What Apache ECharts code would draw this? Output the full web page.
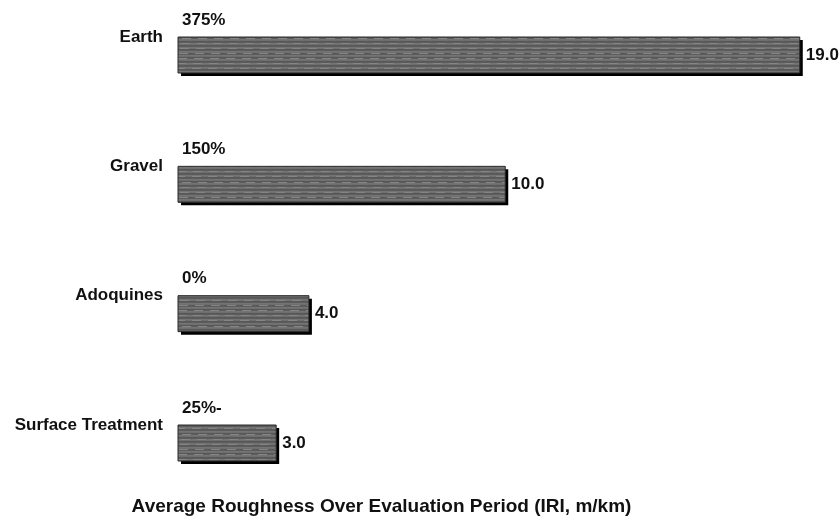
<!DOCTYPE html>
<html>
<head>
<meta charset="utf-8">
<script src="https://cdn.jsdelivr.net/npm/echarts@6/dist/echarts.min.js"></script>
<style>
  html, body { margin: 0; padding: 0; background: #fff; }
  #chart { width: 840px; height: 524px; }
</style>
</head>
<body>
<div id="chart"></div>
<script>
// Surface types, top to bottom
const categories = ['Earth', 'Gravel', 'Adoquines', 'Surface Treatment'];
// Average roughness over the evaluation period (IRI, m/km)
const roughness = [19.0, 10.0, 4.0, 3.0];
// Change relative to the paved reference, shown above each bar
const changeLabels = ['375%', '150%', '0%', '25%-'];
const axisTitle = 'Average Roughness Over Evaluation Period (IRI, m/km)';

const FONT = '"Liberation Sans", Arial, sans-serif';
const BAR_H = 36;

// Grey streaked fill for the bars
function makeStreakPattern() {
  const c = document.createElement('canvas');
  c.width = 64; c.height = 36;
  const ctx = c.getContext('2d');
  ctx.fillStyle = '#636363';
  ctx.fillRect(0, 0, c.width, c.height);
  const shades = ['#6e6e6e', '#585858', '#6a6a6a', '#5c5c5c', '#747474', '#616161'];
  for (let y = 0; y < c.height; y++) {
    ctx.fillStyle = shades[(y * 7 + (y >> 1)) % shades.length];
    ctx.fillRect(0, y, c.width, 1);
    if (y % 5 === 2) {
      ctx.fillStyle = '#858585';
      for (let x = (y * 3) % 16; x < c.width; x += 16) ctx.fillRect(x, y, 9, 1);
    }
  }
  return c;
}
const pattern = { image: makeStreakPattern(), repeat: 'repeat' };

const labelFont = 'bold 17px ' + FONT;

function renderBar(params, api) {
  const value = api.value(0);
  const idx = api.value(1);
  const start = api.coord([0, idx]);
  const end = api.coord([value, idx]);
  const x = start[0];
  const y = start[1] - BAR_H / 2;
  const w = end[0] - start[0];
  return {
    type: 'group',
    children: [
      { type: 'rect', shape: { x: x + 3, y: y + 3, width: w, height: BAR_H },
        style: { fill: '#000' } },
      { type: 'rect', shape: { x: x, y: y, width: w, height: BAR_H },
        style: { fill: pattern, stroke: '#2a2a2a', lineWidth: 1 } },
      { type: 'text', x: end[0] + 6, y: start[1],
        style: { text: value.toFixed(1), font: labelFont, fill: '#111',
                 align: 'left', verticalAlign: 'middle' } },
      { type: 'text', x: x + 4, y: y - 17,
        style: { text: changeLabels[params.dataIndex], font: labelFont, fill: '#111',
                 align: 'left', verticalAlign: 'middle' } }
    ]
  };
}

const chart = echarts.init(document.getElementById('chart'), null, { renderer: 'canvas' });

chart.setOption({
  animation: false,
  backgroundColor: '#ffffff',
  // category centres sit on the grid edges (boundaryGap: false)
  grid: { left: 178, top: 55, width: 654.5, height: 388, containLabel: false },
  xAxis: { type: 'value', min: 0, max: 20, show: false },
  yAxis: {
    type: 'category',
    data: categories,
    inverse: true,
    boundaryGap: false,
    axisLine: { show: false },
    axisTick: { show: false },
    splitLine: { show: false },
    axisLabel: {
      margin: 15,
      formatter: v => '{a|' + v + '}\n{b| }',
      rich: {
        a: { fontFamily: FONT, fontWeight: 'bold', fontSize: 17, lineHeight: 20, color: '#111', align: 'right' },
        b: { fontSize: 2, lineHeight: 36 }
      }
    }
  },
  graphic: [{
    type: 'text',
    x: 381.5,
    y: 507,
    style: {
      text: axisTitle,
      fill: '#111',
      font: 'bold 19px ' + FONT,
      align: 'center',
      verticalAlign: 'middle'
    }
  }],
  series: [{
    type: 'custom',
    renderItem: renderBar,
    clip: false,
    encode: { x: 0, y: 1 },
    data: roughness.map((v, i) => [v, i])
  }]
});
</script>
</body>
</html>
